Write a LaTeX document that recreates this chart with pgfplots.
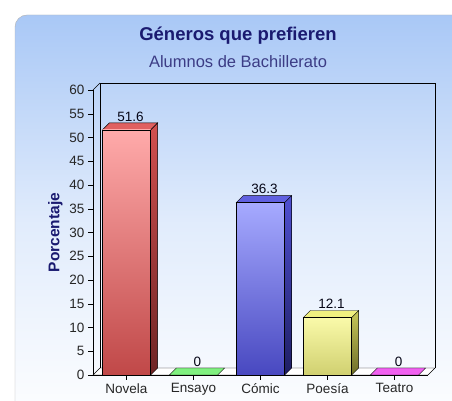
\documentclass[border=0pt]{standalone}
\usepackage{pgfplots}
\pgfplotsset{compat=1.18}
\usepackage{fontspec}
\setmainfont{Liberation Sans}
\definecolor{navy}{HTML}{1A1A70}
\definecolor{panelTop}{HTML}{A9C8F6}
\begin{document}
\begin{tikzpicture}[x=1pt,y=1pt]
\useasboundingbox (0,0) rectangle (452,401);
\fill[white] (0,0) rectangle (452,401);
\shade[top color=panelTop, bottom color=white, middle color=panelTop!35!white, draw=gray!60, rounded corners=12pt]
  (15,-30) -- (15,386) -- (480,386) -- (480,-30) -- cycle;
\node[font=\bfseries\fontsize{18.5}{20}\selectfont, text=navy, anchor=base] at (238,360.5) {Géneros que prefieren};
\node[font=\fontsize{16.5}{18}\selectfont, text=navy!85!white, anchor=base] at (238,333) {Alumnos de Bachillerato};
\begin{axis}[
  at={(93pt,26pt)}, anchor=south west, scale only axis,
  width=335pt, height=285pt,
  xmin=-0.5, xmax=4.5, ymin=0, ymax=60,
  ytick={0,5,...,60}, xtick={0,1,2,3,4},
  xticklabels={Novela,Ensayo,Cómic,Poesía,Teatro},
  axis x line*=bottom, axis y line*=left,
  axis line style={black,-},
  tick align=outside, major tick length=5pt,
  tick style={black},
  ticklabel style={font=\fontsize{13.5}{15}\selectfont, text=black!85},
  /pgf/number format/assume math mode=true,
  clip=false,
  ylabel={Porcentaje},
  ylabel style={font=\bfseries\fontsize{15.5}{17}\selectfont, text=navy, at={(axis description cs:-0.08,0.5)}, anchor=south, rotate=0},
  barlab/.style={nodes near coords, nodes near coords align={vertical},
    every node near coord/.append style={font=\fontsize{13.5}{15}\selectfont, text=black!80!navy, xshift=4pt, yshift=5pt}},
  bar3d/.style={ybar, bar width=0.72, bar shift=0pt, barlab},
]
% floor
\addplot[draw=black, fill=white] coordinates {(-0.5,0) (4.5,0) (4.604,1.47) (-0.396,1.47)} -- cycle;
% back wall
\addplot[draw=black] coordinates {(-0.396,1.47) (-0.396,61.47) (4.604,61.47) (4.604,1.47)};
\addplot[draw=black] coordinates {(-0.5,60) (-0.396,61.47)};
% Novela
\addplot[draw=black, top color={rgb,255:red,210;green,80;blue,80}, bottom color={rgb,255:red,110;green,36;blue,36}] coordinates {(0.36,0) (0.464,1.47) (0.464,53.07) (0.36,51.6)} -- cycle;
\addplot[draw=black, fill={rgb,255:red,224;green,96;blue,96}] coordinates {(-0.36,51.6) (-0.256,53.07) (0.464,53.07) (0.36,51.6)} -- cycle;
\addplot[bar3d, draw=black, top color={rgb,255:red,255;green,170;blue,170}, bottom color={rgb,255:red,192;green,72;blue,72}] coordinates {(0,51.6)};
% Ensayo
\addplot[draw=black, fill={rgb,255:red,128;green,240;blue,128}] coordinates {(0.64,0) (0.744,1.47) (1.464,1.47) (1.36,0)} -- cycle;
\addplot[bar3d, draw=none, fill=none] coordinates {(1,0)};
% Comic
\addplot[draw=black, top color={rgb,255:red,80;green,80;blue,210}, bottom color={rgb,255:red,30;green,30;blue,100}] coordinates {(2.36,0) (2.464,1.47) (2.464,37.77) (2.36,36.3)} -- cycle;
\addplot[draw=black, fill={rgb,255:red,96;green,96;blue,224}] coordinates {(1.64,36.3) (1.744,37.77) (2.464,37.77) (2.36,36.3)} -- cycle;
\addplot[bar3d, draw=black, top color={rgb,255:red,166;green,170;blue,255}, bottom color={rgb,255:red,72;green,72;blue,192}] coordinates {(2,36.3)};
% Poesia
\addplot[draw=black, top color={rgb,255:red,200;green,200;blue,90}, bottom color={rgb,255:red,110;green,110;blue,40}] coordinates {(3.36,0) (3.464,1.47) (3.464,13.57) (3.36,12.1)} -- cycle;
\addplot[draw=black, fill={rgb,255:red,240;green,240;blue,128}] coordinates {(2.64,12.1) (2.744,13.57) (3.464,13.57) (3.36,12.1)} -- cycle;
\addplot[bar3d, draw=black, top color={rgb,255:red,250;green,250;blue,170}, bottom color={rgb,255:red,208;green,208;blue,112}] coordinates {(3,12.1)};
% Teatro
\addplot[draw=black, fill={rgb,255:red,240;green,96;blue,240}] coordinates {(3.64,0) (3.744,1.47) (4.464,1.47) (4.36,0)} -- cycle;
\addplot[bar3d, draw=none, fill=none] coordinates {(4,0)};
\end{axis}
\end{tikzpicture}
\end{document}
